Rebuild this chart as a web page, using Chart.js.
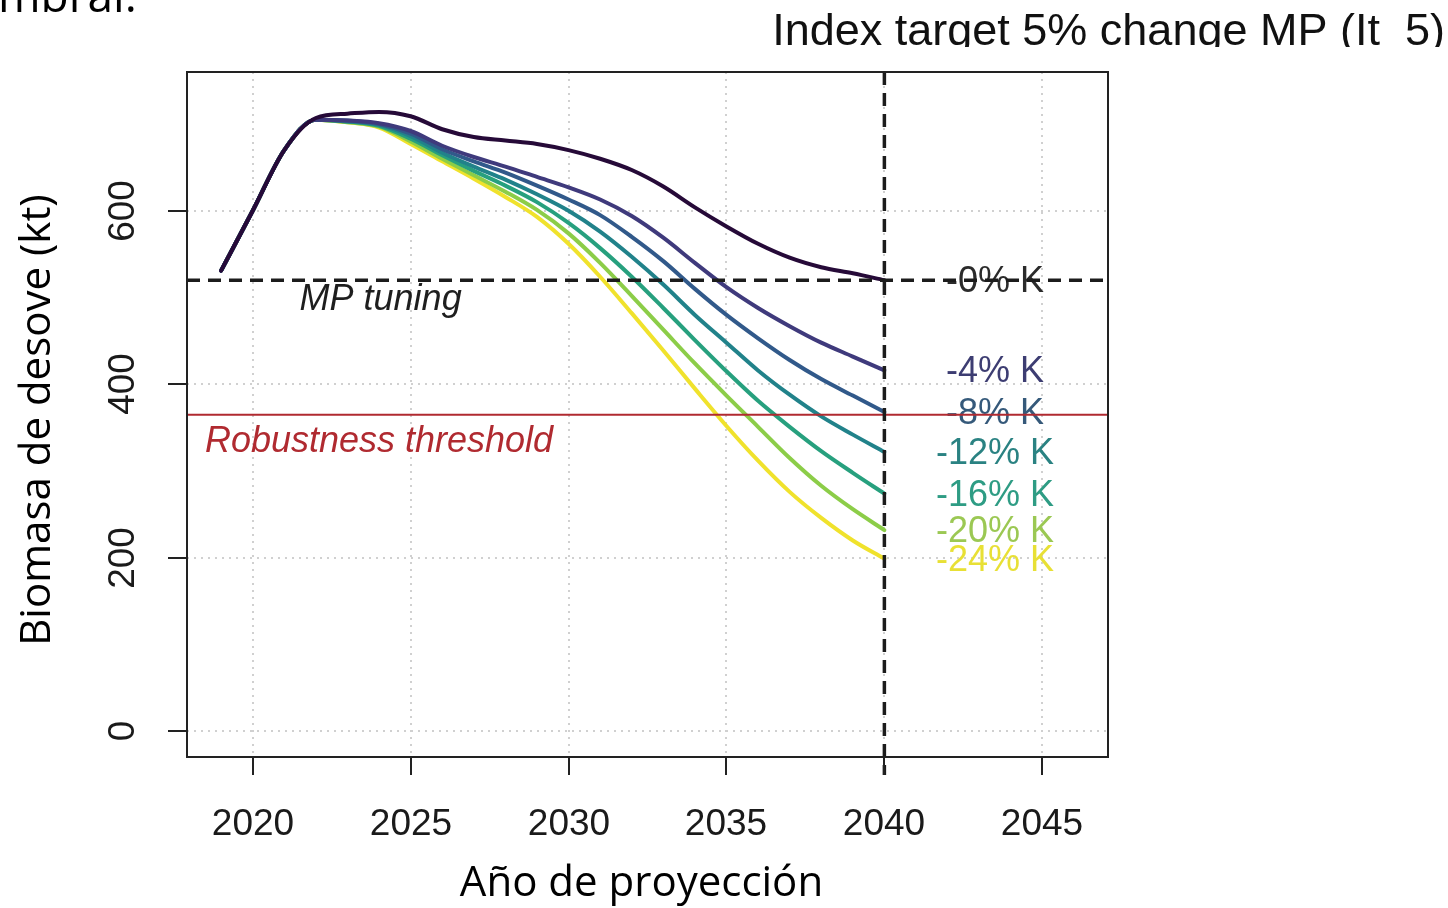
<!DOCTYPE html>
<html>
<head>
<meta charset="utf-8">
<script src="https://cdn.jsdelivr.net/npm/chart.js@4.4.1/dist/chart.umd.min.js"></script>
<style>
  html, body { margin: 0; padding: 0; background: #ffffff; }
  #wrap { width: 1448px; height: 908px; position: relative; overflow: hidden; }
</style>
</head>
<body>
<div id="wrap"><canvas id="c" width="1448" height="908"></canvas></div>
<script>
// Projection years and spawning biomass (kt) for each carrying-capacity scenario
const years = [2019, 2020, 2021, 2022, 2023, 2024, 2025, 2026, 2027, 2028, 2029,
               2030, 2031, 2032, 2033, 2034, 2035, 2036, 2037, 2038, 2039, 2040];

const k0  = [531, 600, 670, 707, 712, 714, 709, 694, 685, 681, 677, 670, 660, 647, 628, 604, 582, 562, 546, 535, 528, 520];
const k4  = [531, 600, 670, 705, 704, 701, 692, 675, 662, 651, 639, 627, 613, 594, 569, 540, 512, 488, 467, 448, 432, 416];
const k8  = [531, 600, 670, 705, 704, 700, 689, 671, 657, 644, 629, 613, 595, 570, 542, 510, 480, 453, 428, 406, 387, 368];
const k12 = [531, 600, 670, 705, 703, 699, 686, 667, 651, 636, 619, 600, 576, 547, 515, 480, 448, 416, 388, 363, 342, 322];
const k16 = [531, 600, 670, 705, 703, 698, 683, 664, 646, 629, 610, 586, 557, 524, 488, 451, 415, 381, 351, 323, 298, 274];
const k20 = [531, 600, 670, 705, 702, 697, 680, 660, 641, 622, 601, 574, 540, 502, 463, 424, 387, 351, 315, 283, 256, 232];
const k24 = [531, 600, 670, 705, 702, 696, 677, 657, 637, 616, 593, 562, 524, 482, 439, 395, 352, 312, 276, 246, 220, 199];

const scenarioSeries = [k0, k4, k8, k12, k16, k20, k24];
const scenarioLabels = ['-0% K', '-4% K', '-8% K', '-12% K', '-16% K', '-20% K', '-24% K'];
const scenarioColors = ['#260a38', '#3f3a7c', '#31598a', '#21828a', '#27a07e', '#8ccd48', '#f0e22c'];
const labelColors    = ['#2b2b2b', '#3d3d72', '#35597a', '#2a8282', '#2e9c84', '#9bc853', '#e8e035'];

// Axis ticks
const xTicks = [2020, 2025, 2030, 2035, 2040, 2045];
const yTicks = [0, 200, 400, 600];

// Reference levels
const mpTuning = 520;        // biomass the MP was tuned to
const robustness = 365;      // robustness threshold
const projectionEnd = 2040;  // end of projection period

const titleText = 'Index target 5% change MP (It_5)';
const xTitle = 'Año de proyección';
const yTitle = 'Biomasa de desove (kt)';

const SANS = '"Liberation Sans", Arial, sans-serif';
const TITLE_SANS = '"Open Sans", "Noto Sans", sans-serif';

const datasets = scenarioSeries.map((s, i) => ({
  label: scenarioLabels[i],
  data: years.map((yr, j) => ({ x: yr, y: s[j] })),
  borderColor: scenarioColors[i],
  backgroundColor: scenarioColors[i],
  borderWidth: 4,
  pointRadius: 0,
  cubicInterpolationMode: 'monotone',
  borderJoinStyle: 'round',
  borderCapStyle: 'round',
  fill: false
}));

function seg(ctx, x1, y1, x2, y2) {
  ctx.beginPath();
  ctx.moveTo(x1, y1);
  ctx.lineTo(x2, y2);
  ctx.stroke();
}

const framePlugin = {
  id: 'framePlugin',
  beforeDraw(chart) {
    const ctx = chart.ctx;
    ctx.save();
    ctx.fillStyle = '#ffffff';
    ctx.fillRect(0, 0, chart.width, chart.height);
    ctx.restore();
  },
  beforeDatasetsDraw(chart) {
    const { ctx, chartArea: a, scales: { x, y } } = chart;
    ctx.save();
    // dotted light grid
    ctx.strokeStyle = '#d0d0d0';
    ctx.lineWidth = 2;
    ctx.setLineDash([2, 5]);
    xTicks.forEach(t => {
      const px = Math.round(x.getPixelForValue(t));
      seg(ctx, px, a.top, px, a.bottom);
    });
    yTicks.forEach(t => {
      const py = Math.round(y.getPixelForValue(t));
      seg(ctx, a.left, py, a.right, py);
    });
    ctx.restore();

    // scenario labels beside the end of each line
    ctx.save();
    ctx.font = '36px ' + SANS;
    ctx.textAlign = 'center';
    ctx.textBaseline = 'middle';
    const lx = x.getPixelForValue(2043.5);
    scenarioSeries.forEach((s, i) => {
      ctx.fillStyle = labelColors[i];
      ctx.fillText(scenarioLabels[i], lx, y.getPixelForValue(s[s.length - 1]) + 2);
    });
    ctx.restore();
  },
  afterDatasetsDraw(chart) {
    const { ctx, chartArea: a, scales: { x, y } } = chart;
    ctx.save();

    // robustness threshold
    ctx.strokeStyle = '#b02a30';
    ctx.lineWidth = 2;
    const ry = y.getPixelForValue(robustness);
    seg(ctx, a.left, ry, a.right, ry);

    // MP tuning level and end of projection
    ctx.strokeStyle = '#1c1c1c';
    ctx.lineWidth = 3.5;
    ctx.setLineDash([13, 8]);
    const my = y.getPixelForValue(mpTuning);
    seg(ctx, a.left, my, a.right, my);
    const ex = x.getPixelForValue(projectionEnd);
    seg(ctx, ex, a.top, ex, a.bottom + 18);
    ctx.setLineDash([]);

    // annotations
    ctx.font = 'italic 36px ' + SANS;
    ctx.textAlign = 'center';
    ctx.textBaseline = 'middle';
    ctx.fillStyle = '#1e1e1e';
    ctx.fillText('MP tuning', x.getPixelForValue(2024.05), y.getPixelForValue(497));
    ctx.fillStyle = '#b02a30';
    ctx.fillText('Robustness threshold', x.getPixelForValue(2024.0), y.getPixelForValue(334));

    // plot box
    ctx.strokeStyle = '#222222';
    ctx.lineWidth = 2;
    ctx.strokeRect(a.left, a.top, a.right - a.left, a.bottom - a.top);

    // x axis ticks and labels
    ctx.lineWidth = 2;
    ctx.fillStyle = '#1a1a1a';
    ctx.font = '37px ' + SANS;
    ctx.textAlign = 'center';
    ctx.textBaseline = 'middle';
    xTicks.forEach(t => {
      const px = Math.round(x.getPixelForValue(t));
      seg(ctx, px, a.bottom, px, a.bottom + 18);
      ctx.fillText(String(t), px, a.bottom + 68);
    });

    // y axis ticks and rotated labels
    yTicks.forEach(t => {
      const py = Math.round(y.getPixelForValue(t));
      seg(ctx, a.left - 19, py, a.left, py);
      ctx.save();
      ctx.translate(a.left - 63, py);
      ctx.rotate(-Math.PI / 2);
      ctx.fillText(String(t), 0, 0);
      ctx.restore();
    });

    // axis titles
    ctx.fillStyle = '#000000';
    ctx.font = '42px ' + TITLE_SANS;
    ctx.fillText(xTitle, (a.left + a.right) / 2 - 6, 884);
    ctx.save();
    ctx.translate(38, 420);
    ctx.rotate(-Math.PI / 2);
    ctx.fillText(yTitle, 0, 0);
    ctx.restore();

    // panel title, trimmed at the bottom edge
    ctx.save();
    ctx.beginPath();
    ctx.rect(700, 0, 748, 47);
    ctx.clip();
    ctx.font = '45px ' + SANS;
    ctx.textAlign = 'right';
    ctx.textBaseline = 'alphabetic';
    ctx.fillStyle = '#111111';
    ctx.fillText(titleText, 1445, 45);
    ctx.restore();

    // leftover caption text running off the top edge
    ctx.font = '46px ' + TITLE_SANS;
    ctx.textAlign = 'left';
    ctx.textBaseline = 'alphabetic';
    ctx.fillStyle = '#000000';
    ctx.fillText('mbral.', -2, 12);

    ctx.restore();
  }
};

new Chart(document.getElementById('c'), {
  type: 'line',
  data: { datasets },
  options: {
    responsive: false,
    animation: false,
    devicePixelRatio: 1,
    layout: { padding: { left: 187, top: 72, right: 340, bottom: 151 } },
    scales: {
      x: { type: 'linear', min: 2017.92, max: 2047.08, display: false },
      y: { type: 'linear', min: -29.6, max: 760, display: false }
    },
    plugins: { legend: { display: false }, tooltip: { enabled: false } }
  },
  plugins: [framePlugin]
});
</script>
</body>
</html>
